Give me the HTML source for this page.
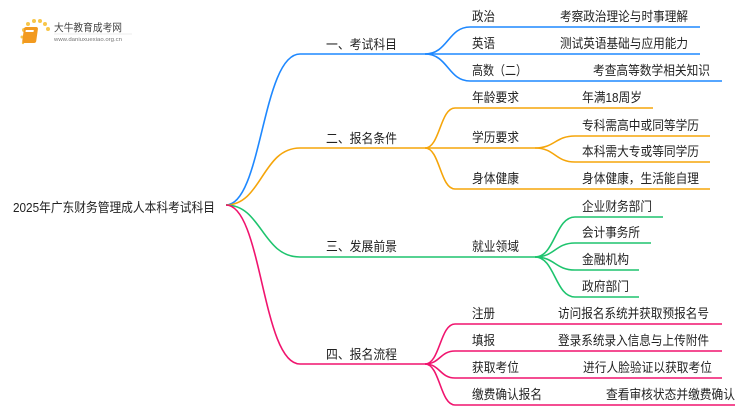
<!DOCTYPE html>
<html><head><meta charset="utf-8"><style>
html,body{margin:0;padding:0;background:#fff;}
svg{display:block;}
text{font-family:"Liberation Sans","Noto Sans CJK SC",sans-serif;font-size:13px;fill:#222;}
</style></head><body>
<svg width="750" height="410" viewBox="0 0 750 410" xmlns="http://www.w3.org/2000/svg">
<g>
<circle cx="24" cy="30" r="2" fill="#f7c64a"/><circle cx="28" cy="24" r="2" fill="#f7c64a"/><circle cx="34" cy="21" r="2" fill="#f7c64a"/><circle cx="40" cy="21" r="2" fill="#f7c64a"/><circle cx="45" cy="24" r="2" fill="#f7c64a"/><circle cx="48" cy="29" r="2" fill="#f7c64a"/><circle cx="22" cy="37" r="1.5" fill="#f7c64a"/><circle cx="23" cy="43" r="1.2" fill="#f7c64a"/>
<rect x="28" y="27" width="14" height="16" rx="2" fill="#f29a1f" transform="skewX(-8)"/>
<rect x="30" y="30" width="8" height="2" fill="#fff" transform="skewX(-8)"/>
<text x="54" y="31" style="font-size:10.5px;fill:#444" textLength="68" lengthAdjust="spacingAndGlyphs">大牛教育成考网</text>
<line x1="54" y1="34" x2="132" y2="34" stroke="#ddd" stroke-width="0.6"/>
<text x="54" y="41" style="font-size:5.5px;fill:#777" textLength="68" lengthAdjust="spacingAndGlyphs">www.daniuxuexiao.org.cn</text>
</g>
<text x="13" y="212" textLength="202" lengthAdjust="spacingAndGlyphs">2025年广东财务管理成人本科考试科目</text>
<g fill="none" stroke-width="1.6">
<g stroke="#1e88ff">
<path d="M226 205 C262 205 262 54 300 54 H425"/>
<path d="M425 54 C448 54 448 27 470 27 H700"/>
<path d="M425 54 H700"/>
<path d="M425 54 C448 54 448 81 470 81 H722"/>
</g>
<g stroke="#f5a50a">
<path d="M226 205 C262 205 262 148 300 148 H425"/>
<path d="M425 148 C440 148 440 108 455 108 H653"/>
<path d="M425 148 H535"/>
<path d="M425 148 C440 148 440 189 455 189 H710"/>
<path d="M535 148 C555 148 555 136 575 136 H710"/>
<path d="M535 148 C555 148 555 162 575 162 H710"/>
</g>
<g stroke="#1ec46e">
<path d="M226 205 C262 205 262 257 300 257 H535"/>
<path d="M535 257 C555 257 555 217 575 217 H663"/>
<path d="M535 257 C555 257 555 243 575 243 H651"/>
<path d="M535 257 C555 257 555 270 575 270 H639"/>
<path d="M535 257 C555 257 555 297 575 297 H639"/>
</g>
<g stroke="#f0146e">
<path d="M226 205 C262 205 262 364 300 364 H425"/>
<path d="M425 364 C440 364 440 324 455 324 H722"/>
<path d="M425 364 C440 364 440 351 455 351 H722"/>
<path d="M425 364 C440 364 440 378 455 378 H722"/>
<path d="M425 364 C440 364 440 405 455 405 H735"/>
</g>
</g>
<g lengthAdjust="spacingAndGlyphs">
<text x="326" y="49" textLength="71" lengthAdjust="spacingAndGlyphs">一、考试科目</text>
<text x="326" y="143" textLength="71" lengthAdjust="spacingAndGlyphs">二、报名条件</text>
<text x="326" y="251" textLength="71" lengthAdjust="spacingAndGlyphs">三、发展前景</text>
<text x="326" y="359" textLength="71" lengthAdjust="spacingAndGlyphs">四、报名流程</text>

<text x="472" y="21" textLength="23" lengthAdjust="spacingAndGlyphs">政治</text><text x="560" y="21" textLength="128" lengthAdjust="spacingAndGlyphs">考察政治理论与时事理解</text>
<text x="472" y="48" textLength="23" lengthAdjust="spacingAndGlyphs">英语</text><text x="560" y="48" textLength="128" lengthAdjust="spacingAndGlyphs">测试英语基础与应用能力</text>
<text x="472" y="75" textLength="55" lengthAdjust="spacingAndGlyphs">高数（二）</text><text x="593" y="75" textLength="117" lengthAdjust="spacingAndGlyphs">考查高等数学相关知识</text>

<text x="472" y="102" textLength="47" lengthAdjust="spacingAndGlyphs">年龄要求</text><text x="582" y="102" textLength="60" lengthAdjust="spacingAndGlyphs">年满18周岁</text>
<text x="472" y="142" textLength="47" lengthAdjust="spacingAndGlyphs">学历要求</text>
<text x="582" y="130" textLength="117" lengthAdjust="spacingAndGlyphs">专科需高中或同等学历</text>
<text x="582" y="156" textLength="117" lengthAdjust="spacingAndGlyphs">本科需大专或等同学历</text>
<text x="472" y="183" textLength="47" lengthAdjust="spacingAndGlyphs">身体健康</text><text x="582" y="183" textLength="117" lengthAdjust="spacingAndGlyphs">身体健康，生活能自理</text>

<text x="472" y="251" textLength="47" lengthAdjust="spacingAndGlyphs">就业领域</text>
<text x="582" y="211" textLength="70" lengthAdjust="spacingAndGlyphs">企业财务部门</text>
<text x="582" y="237" textLength="58" lengthAdjust="spacingAndGlyphs">会计事务所</text>
<text x="582" y="264" textLength="47" lengthAdjust="spacingAndGlyphs">金融机构</text>
<text x="582" y="291" textLength="47" lengthAdjust="spacingAndGlyphs">政府部门</text>

<text x="472" y="318" textLength="23" lengthAdjust="spacingAndGlyphs">注册</text><text x="558" y="318" textLength="151" lengthAdjust="spacingAndGlyphs">访问报名系统并获取预报名号</text>
<text x="472" y="345" textLength="23" lengthAdjust="spacingAndGlyphs">填报</text><text x="558" y="345" textLength="151" lengthAdjust="spacingAndGlyphs">登录系统录入信息与上传附件</text>
<text x="472" y="372" textLength="47" lengthAdjust="spacingAndGlyphs">获取考位</text><text x="583" y="372" textLength="129" lengthAdjust="spacingAndGlyphs">进行人脸验证以获取考位</text>
<text x="472" y="399" textLength="70" lengthAdjust="spacingAndGlyphs">缴费确认报名</text><text x="606" y="399" textLength="129" lengthAdjust="spacingAndGlyphs">查看审核状态并缴费确认</text>
</g>
</svg>
</body></html>
